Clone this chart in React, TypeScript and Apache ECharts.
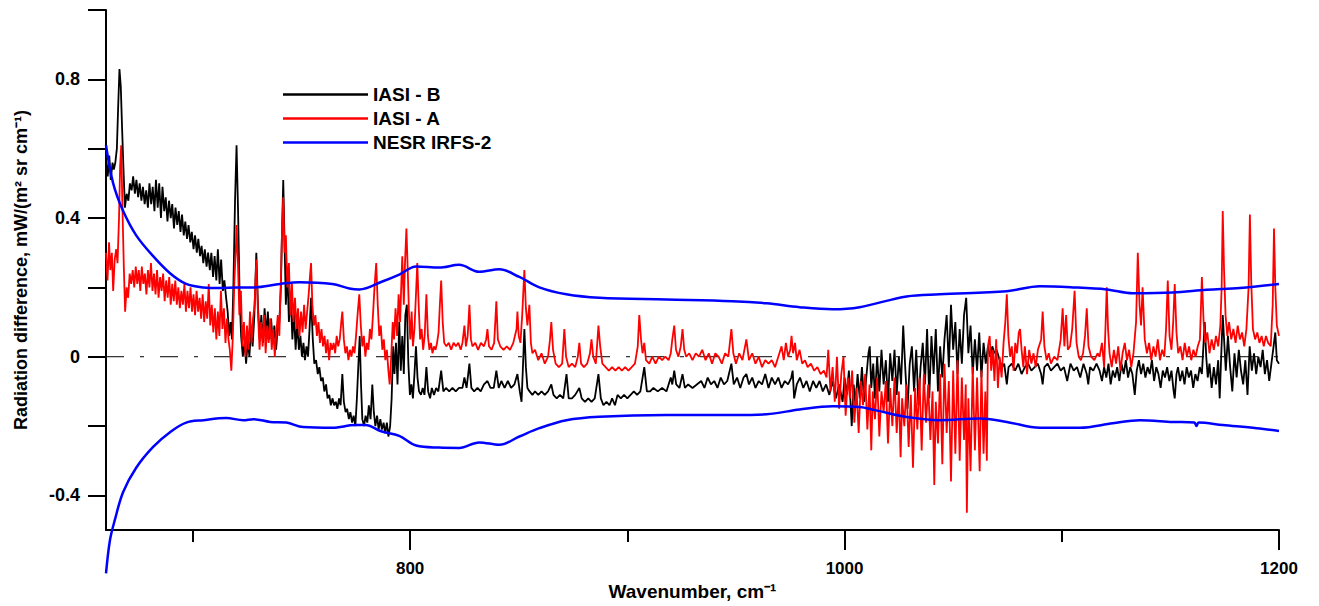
import React, { useEffect, useRef } from "react";
import * as echarts from "echarts";

// Wavenumber axis (cm-1) and radiation-difference axis ticks
const xMajorTicks = [800, 1000, 1200];
const xMinorTicks = [700, 900, 1100];
const yTicks = [-0.4, -0.2, 0, 0.2, 0.4, 0.6, 0.8, 1.0];
const yLabels = [-0.4, 0, 0.4, 0.8];

// IASI - B radiation difference, [wavenumber, value]
const iasiB: [number, number][] = [
  [660.0,0.57],[660.8,0.52],[661.5,0.58],[662.2,0.51],[663.0,0.56],[663.6,0.54],[664.3,0.56],[665.0,0.60],[665.6,0.72],[666.2,0.83],
  [666.8,0.78],[667.4,0.66],[668.0,0.55],[668.7,0.43],[669.5,0.47],[670.3,0.45],[671.0,0.50],[671.8,0.48],[672.5,0.52],[673.3,0.47],
  [674.0,0.51],[674.8,0.46],[675.5,0.50],[676.3,0.45],[677.0,0.49],[677.8,0.44],[678.5,0.48],[679.3,0.43],[680.0,0.50],[680.8,0.44],
  [681.5,0.49],[682.3,0.42],[683.0,0.51],[683.8,0.43],[684.5,0.50],[685.3,0.40],[686.0,0.49],[686.8,0.42],[687.5,0.46],[688.3,0.39],
  [689.0,0.45],[689.8,0.40],[690.5,0.44],[691.3,0.37],[692.0,0.43],[692.8,0.38],[693.5,0.42],[694.3,0.36],[695.0,0.41],[695.8,0.35],
  [696.5,0.39],[697.3,0.34],[698.0,0.38],[698.8,0.33],[699.5,0.36],[700.3,0.31],[701.0,0.35],[701.8,0.30],[702.5,0.34],[703.3,0.29],
  [704.0,0.32],[704.8,0.27],[705.5,0.31],[706.3,0.26],[707.0,0.30],[707.8,0.25],[708.5,0.30],[709.3,0.23],[710.0,0.29],[710.8,0.22],
  [711.5,0.31],[712.3,0.21],[713.0,0.28],[713.8,0.19],[714.5,0.22],[715.3,0.17],[716.0,0.13],[716.7,0.06],[717.4,0.10],[718.0,0.05],
  [718.7,0.22],[719.4,0.45],[720.1,0.61],[720.8,0.42],[721.5,0.18],[722.2,0.06],[723.0,0.00],[723.8,0.04],[724.5,-0.02],[725.3,0.05],
  [726.0,0.00],[726.8,0.08],[727.5,0.03],[728.3,0.12],[729.2,0.30],[730.0,0.14],[730.8,0.05],[731.5,0.12],[732.3,0.04],[733.0,0.14],
  [733.8,0.06],[734.5,0.13],[735.3,0.05],[736.0,0.11],[736.8,0.04],[737.5,0.09],[738.3,0.02],[739.0,0.08],[739.8,0.10],[740.5,0.20],
  [741.0,0.35],[741.6,0.51],[742.2,0.33],[742.8,0.15],[743.5,0.25],[744.2,0.10],[745.0,0.18],[745.8,0.05],[746.5,0.13],[747.3,0.02],
  [748.0,0.10],[748.8,0.02],[749.5,0.06],[750.2,0.00],[750.9,0.04],[751.6,-0.01],[752.3,0.03],[753.0,0.00],[753.7,0.08],[754.4,0.17],
  [755.2,0.05],[755.9,-0.02],[756.7,-0.01],[757.5,-0.05],[758.2,-0.03],[759.0,-0.07],[759.8,-0.06],[760.5,-0.10],[761.3,-0.08],[762.0,-0.12],
  [762.8,-0.11],[763.5,-0.14],[764.3,-0.12],[765.0,-0.14],[765.8,-0.13],[766.5,-0.15],[767.3,-0.12],[768.0,-0.14],[768.8,-0.05],[769.5,-0.13],
  [770.3,-0.16],[771.0,-0.15],[771.8,-0.18],[772.5,-0.16],[773.3,-0.19],[774.0,-0.17],[774.8,-0.20],[775.5,-0.12],[776.2,-0.02],[776.8,0.06],
  [777.4,-0.08],[778.0,-0.18],[778.8,-0.20],[779.5,-0.17],[780.3,-0.19],[781.0,-0.14],[781.8,-0.18],[782.6,-0.08],[783.3,-0.16],[784.0,-0.20],
  [784.8,-0.17],[785.5,-0.21],[786.3,-0.18],[787.0,-0.21],[787.8,-0.19],[788.5,-0.22],[789.3,-0.19],[790.0,-0.23],[790.8,-0.20],[791.5,-0.12],
  [792.2,0.03],[792.8,-0.05],[793.5,0.04],[794.2,-0.08],[795.0,0.10],[795.7,-0.04],[796.4,0.06],[797.1,-0.05],[797.8,0.12],[798.5,0.15],
  [799.2,-0.02],[799.9,-0.11],[800.6,-0.08],[801.3,-0.12],[802.0,-0.05],[802.7,0.03],[803.4,-0.06],[804.1,-0.10],[805.0,-0.11],[805.8,-0.09],
  [806.6,-0.11],[807.5,-0.03],[808.3,-0.10],[809.2,-0.12],[810.0,-0.09],[811.0,-0.11],[812.0,-0.09],[813.0,-0.10],[814.3,-0.04],[815.3,-0.10],
  [816.5,-0.09],[818.0,-0.10],[819.5,-0.09],[821.0,-0.10],[822.5,-0.09],[824.1,-0.09],[825.0,-0.06],[826.0,-0.09],[827.3,-0.02],[828.2,-0.09],
  [829.5,-0.10],[831.0,-0.09],[832.5,-0.10],[834.0,-0.08],[835.6,-0.07],[837.0,-0.09],[838.5,-0.09],[839.7,-0.04],[840.8,-0.09],[842.0,-0.07],
  [843.5,-0.09],[845.0,-0.07],[846.5,-0.09],[848.0,-0.08],[849.4,-0.05],[850.5,-0.10],[851.3,-0.13],[852.0,-0.02],[852.6,0.08],[853.3,-0.03],
  [854.0,-0.09],[855.0,-0.10],[856.3,-0.11],[857.5,-0.10],[859.0,-0.11],[860.5,-0.10],[862.0,-0.11],[863.5,-0.10],[865.0,-0.08],[866.0,-0.11],
  [867.5,-0.12],[869.0,-0.11],[870.5,-0.12],[872.0,-0.05],[873.0,-0.12],[874.5,-0.12],[876.0,-0.11],[877.9,-0.09],[879.0,-0.12],[880.5,-0.13],
  [882.0,-0.12],[883.5,-0.13],[885.0,-0.12],[886.7,-0.05],[887.8,-0.12],[889.0,-0.14],[890.4,-0.13],[891.8,-0.14],[893.0,-0.12],[894.3,-0.14],
  [895.5,-0.11],[897.0,-0.12],[898.5,-0.11],[900.0,-0.12],[901.5,-0.11],[903.0,-0.10],[904.5,-0.11],[906.0,-0.10],[907.8,-0.03],[909.0,-0.10],
  [910.5,-0.10],[912.0,-0.09],[914.0,-0.10],[916.0,-0.09],[918.0,-0.10],[920.0,-0.06],[920.7,-0.08],[921.6,-0.04],[922.5,-0.08],[924.0,-0.09],
  [925.4,-0.05],[926.5,-0.09],[928.0,-0.08],[930.0,-0.09],[932.0,-0.08],[934.0,-0.07],[935.5,-0.09],[937.0,-0.06],[938.5,-0.08],[940.0,-0.07],
  [941.5,-0.09],[943.0,-0.06],[944.5,-0.08],[946.0,-0.07],[947.9,-0.02],[949.0,-0.08],[950.5,-0.06],[952.0,-0.09],[953.5,-0.06],[954.8,-0.05],
  [956.0,-0.08],[957.5,-0.06],[959.0,-0.09],[960.5,-0.07],[962.0,-0.08],[963.5,-0.05],[965.0,-0.09],[966.5,-0.06],[968.0,-0.08],[969.5,-0.06],
  [971.0,-0.09],[972.5,-0.07],[974.0,-0.08],[975.5,-0.06],[976.1,-0.04],[976.8,-0.12],[978.0,-0.08],[979.5,-0.06],[981.0,-0.09],[982.5,-0.07],
  [984.0,-0.10],[985.5,-0.07],[987.0,-0.09],[988.5,-0.07],[990.0,-0.10],[991.5,-0.08],[993.0,-0.11],[994.5,-0.07],[996.0,-0.12],[997.5,-0.08],
  [999.1,-0.13],[1000.0,-0.06],[1001.0,-0.11],[1002.0,-0.04],[1003.3,-0.20],[1004.2,-0.08],[1005.0,-0.14],[1006.0,-0.05],[1007.0,-0.12],[1008.0,-0.03],
  [1009.0,-0.13],[1010.0,-0.06],[1011.0,0.01],[1011.6,0.03],[1012.3,-0.09],[1013.2,-0.02],[1014.0,-0.12],[1015.0,0.00],[1016.0,-0.10],[1017.0,0.02],
  [1018.0,-0.08],[1019.0,-0.01],[1020.0,-0.13],[1021.0,0.01],[1022.0,-0.07],[1023.0,0.02],[1024.0,-0.11],[1025.0,0.00],[1026.0,-0.08],[1027.0,0.09],
  [1028.0,-0.04],[1029.0,-0.15],[1030.0,-0.02],[1031.0,0.03],[1032.0,-0.10],[1033.0,0.02],[1034.0,-0.14],[1035.0,-0.03],[1036.0,0.04],[1037.0,-0.08],
  [1038.0,0.08],[1039.0,-0.12],[1040.0,0.06],[1041.0,-0.05],[1042.0,0.08],[1043.0,-0.10],[1044.0,0.03],[1045.0,-0.06],[1046.0,0.05],[1047.0,0.12],
  [1048.0,-0.03],[1049.0,0.15],[1050.0,0.02],[1051.0,0.10],[1052.0,-0.05],[1053.0,0.08],[1054.0,-0.02],[1055.0,0.12],[1056.0,0.17],[1057.0,0.01],
  [1058.0,0.09],[1059.0,-0.05],[1060.0,0.05],[1061.0,-0.04],[1062.0,0.07],[1063.0,-0.06],[1064.0,0.04],[1065.0,-0.02],[1066.0,0.03],[1067.0,0.00],
  [1068.0,0.03],[1069.0,0.01],[1070.0,0.02],[1071.4,-0.01],[1072.5,-0.03],[1073.5,-0.02],[1074.7,-0.08],[1075.5,-0.03],[1077.0,-0.02],[1078.5,-0.04],
  [1080.0,-0.02],[1081.5,-0.05],[1083.0,-0.03],[1084.5,-0.02],[1086.0,-0.04],[1087.5,-0.03],[1089.0,-0.02],[1090.5,-0.05],[1091.2,-0.08],[1092.0,-0.03],
  [1093.5,-0.02],[1095.0,-0.04],[1096.5,-0.03],[1098.0,-0.02],[1099.5,-0.04],[1101.0,-0.03],[1102.5,-0.07],[1104.0,-0.02],[1105.5,-0.04],[1107.0,-0.03],
  [1108.5,-0.06],[1110.0,-0.02],[1111.5,-0.05],[1112.2,-0.08],[1113.0,-0.03],[1114.5,-0.04],[1116.0,-0.02],[1117.4,-0.04],[1118.5,-0.07],[1119.5,-0.03],
  [1120.5,-0.06],[1121.5,-0.02],[1122.5,-0.08],[1123.5,-0.04],[1124.5,-0.06],[1125.5,-0.03],[1126.5,-0.07],[1127.5,-0.02],[1128.5,-0.05],[1129.5,-0.01],
  [1130.5,-0.06],[1131.5,-0.03],[1132.5,-0.05],[1133.6,-0.11],[1134.5,-0.04],[1135.5,-0.01],[1136.5,-0.05],[1137.5,-0.02],[1138.5,-0.06],[1139.5,-0.03],
  [1140.5,-0.05],[1141.5,-0.01],[1142.5,-0.07],[1143.5,-0.03],[1144.5,-0.05],[1145.5,-0.09],[1146.5,-0.04],[1147.5,-0.06],[1148.5,-0.03],[1149.5,-0.07],
  [1150.5,-0.04],[1151.5,-0.10],[1152.0,-0.12],[1152.8,-0.05],[1153.5,-0.03],[1154.5,-0.07],[1155.5,-0.04],[1156.5,-0.08],[1157.5,-0.03],[1158.5,-0.06],
  [1159.5,-0.04],[1160.5,-0.09],[1161.5,-0.05],[1162.5,-0.07],[1163.5,-0.03],[1164.5,-0.05],[1165.8,0.10],[1166.5,0.00],[1167.2,-0.06],[1168.0,-0.02],
  [1169.0,-0.09],[1170.0,-0.03],[1171.0,-0.08],[1172.0,-0.01],[1172.7,-0.12],[1173.5,0.02],[1174.1,0.12],[1174.8,0.04],[1175.5,-0.04],[1176.5,0.06],
  [1177.5,-0.03],[1178.5,-0.10],[1179.5,0.01],[1180.5,-0.06],[1181.5,0.02],[1182.5,-0.04],[1183.5,-0.08],[1184.5,-0.01],[1185.5,-0.11],[1186.5,0.03],
  [1187.5,-0.04],[1188.5,0.01],[1189.5,-0.05],[1190.5,0.00],[1191.5,-0.03],[1192.5,0.02],[1193.5,-0.05],[1194.5,-0.01],[1195.5,-0.07],[1196.5,-0.02],
  [1197.5,0.03],[1198.3,0.07],[1199.0,-0.01],[1200.0,-0.02],
];

// IASI - A radiation difference, [wavenumber, value]
const iasiA: [number, number][] = [
  [660.0,0.30],[660.7,0.22],[661.4,0.33],[662.0,0.25],[662.7,0.30],[663.3,0.19],[664.0,0.28],[664.7,0.31],[665.3,0.27],[666.0,0.40],
  [666.5,0.55],[667.0,0.61],[667.5,0.45],[668.2,0.26],[668.8,0.13],[669.5,0.20],[670.2,0.17],[670.9,0.24],[671.6,0.21],[672.3,0.25],
  [673.0,0.20],[673.7,0.26],[674.4,0.21],[675.1,0.25],[675.8,0.19],[676.5,0.26],[677.2,0.21],[677.9,0.24],[678.6,0.18],[679.3,0.25],
  [680.0,0.20],[680.7,0.27],[681.4,0.19],[682.1,0.24],[682.8,0.18],[683.5,0.25],[684.2,0.17],[684.9,0.23],[685.6,0.19],[686.3,0.24],
  [687.0,0.16],[687.7,0.22],[688.4,0.17],[689.1,0.23],[689.8,0.15],[690.5,0.21],[691.2,0.16],[691.9,0.22],[692.6,0.15],[693.3,0.20],
  [694.0,0.14],[694.7,0.19],[695.4,0.15],[696.1,0.21],[696.8,0.13],[697.5,0.19],[698.2,0.14],[698.9,0.20],[699.6,0.13],[700.3,0.18],
  [701.0,0.12],[701.7,0.19],[702.4,0.13],[703.1,0.17],[703.8,0.11],[704.5,0.18],[705.2,0.10],[705.9,0.16],[706.6,0.11],[707.3,0.21],
  [708.0,0.09],[708.7,0.15],[709.4,0.07],[710.1,0.14],[710.8,0.05],[711.5,0.13],[712.2,0.06],[712.9,0.19],[713.6,0.08],[714.3,0.14],
  [715.0,0.04],[715.7,0.11],[716.4,0.05],[717.0,0.02],[717.7,-0.04],[718.4,0.06],[719.1,0.22],[719.7,0.30],[720.1,0.38],[720.7,0.28],
  [721.4,0.12],[722.1,0.19],[722.8,0.03],[723.5,0.10],[724.2,0.00],[724.9,0.09],[725.6,0.02],[726.3,0.13],[727.0,0.04],[727.7,0.11],
  [728.4,0.15],[729.2,0.28],[730.0,0.12],[730.7,0.02],[731.4,0.10],[732.1,0.03],[732.8,0.12],[733.5,0.01],[734.2,0.09],[734.9,0.04],
  [735.6,0.11],[736.3,0.02],[737.0,0.08],[737.7,0.00],[738.4,0.07],[739.1,0.12],[739.8,0.06],[740.5,0.22],[741.1,0.38],[741.6,0.46],
  [742.2,0.30],[742.8,0.35],[743.5,0.20],[744.2,0.27],[744.9,0.12],[745.6,0.21],[746.3,0.10],[747.0,0.17],[747.7,0.08],[748.4,0.14],
  [749.1,0.06],[749.8,0.13],[750.5,0.07],[751.2,0.15],[751.9,0.08],[752.6,0.13],[753.3,0.18],[754.0,0.24],[754.4,0.27],[755.0,0.15],
  [755.7,0.09],[756.4,0.12],[757.1,0.06],[757.8,0.10],[758.5,0.04],[759.2,0.08],[759.9,0.03],[760.6,0.06],[761.3,0.01],[762.0,0.05],
  [762.7,-0.01],[763.4,0.04],[764.1,0.02],[764.8,0.04],[765.5,0.01],[766.2,0.06],[766.9,0.03],[767.6,0.05],[768.3,0.10],[768.8,0.13],
  [769.5,0.05],[770.2,0.01],[770.9,0.03],[771.6,-0.01],[772.3,0.02],[773.0,0.00],[773.7,0.03],[774.4,0.01],[775.1,0.06],[775.8,0.12],
  [776.6,0.18],[777.3,0.09],[778.0,0.03],[778.7,0.06],[779.4,0.00],[780.1,0.04],[780.8,0.02],[781.5,0.08],[782.2,0.05],[782.9,0.12],
  [783.6,0.20],[784.4,0.27],[785.1,0.15],[785.8,0.06],[786.5,0.09],[787.2,0.02],[787.9,0.05],[788.6,-0.01],[789.3,0.02],[790.0,-0.04],
  [790.6,-0.08],[791.3,0.00],[792.0,0.10],[792.6,0.05],[793.3,0.14],[794.0,0.06],[794.7,0.18],[795.4,0.10],[796.0,0.22],[796.4,0.29],
  [797.1,0.15],[797.7,0.28],[798.3,0.37],[798.9,0.25],[799.5,0.12],[800.1,0.05],[800.7,0.13],[801.3,0.03],[802.0,0.08],[802.7,0.18],
  [803.3,0.27],[804.0,0.14],[804.6,0.05],[805.3,0.08],[806.0,0.02],[806.7,0.06],[807.5,0.18],[808.2,0.06],[808.9,0.02],[809.6,0.04],
  [810.3,0.01],[811.0,0.03],[811.7,0.02],[812.4,0.04],[813.1,0.07],[813.7,0.15],[814.3,0.22],[815.0,0.10],[815.7,0.04],[816.7,0.03],
  [817.8,0.04],[818.9,0.02],[820.0,0.04],[821.1,0.03],[822.2,0.04],[823.3,0.02],[824.1,0.04],[825.0,0.09],[825.7,0.03],[826.5,0.06],
  [827.3,0.15],[828.0,0.05],[828.7,0.03],[830.0,0.04],[831.3,0.02],[832.6,0.04],[834.0,0.03],[835.0,0.05],[835.6,0.08],[836.3,0.03],
  [837.5,0.02],[838.7,0.04],[839.7,0.16],[840.4,0.05],[841.5,0.03],[843.0,0.02],[844.5,0.03],[846.0,0.02],[847.5,0.04],[849.0,0.08],
  [849.4,0.13],[850.0,0.06],[850.8,0.04],[851.6,0.12],[852.6,0.25],[853.3,0.14],[854.0,0.09],[854.9,0.15],[855.6,0.04],[856.3,0.01],
  [857.5,0.02],[859.0,-0.01],[860.5,0.01],[862.0,-0.02],[863.5,0.00],[864.4,0.05],[865.0,0.10],[865.8,0.02],[867.0,-0.02],[868.5,-0.03],
  [870.0,-0.02],[870.6,0.04],[871.0,0.08],[871.8,0.00],[873.0,-0.03],[874.5,-0.02],[876.0,-0.03],[877.2,0.00],[877.9,0.04],[878.7,-0.02],
  [880.0,-0.03],[881.5,-0.02],[882.8,0.01],[883.5,0.05],[884.3,0.00],[885.5,-0.02],[886.7,0.09],[887.5,0.03],[888.5,-0.02],[890.0,-0.03],
  [891.5,-0.04],[893.0,-0.03],[894.5,-0.04],[896.0,-0.03],[897.5,-0.04],[899.0,-0.03],[900.5,-0.04],[902.0,-0.03],[903.5,-0.02],[904.8,0.03],
  [905.5,0.12],[906.3,0.05],[907.0,0.01],[907.8,0.04],[908.6,-0.01],[910.1,-0.02],[911.5,0.00],[913.0,-0.02],[914.5,0.00],[916.0,-0.01],
  [917.5,0.00],[919.0,-0.01],[920.0,0.01],[920.7,0.05],[921.6,0.09],[922.4,0.02],[923.5,0.00],[924.6,0.03],[925.4,0.08],[926.2,0.02],
  [927.1,0.00],[928.5,0.01],[930.0,-0.01],[931.5,0.01],[933.0,0.00],[934.5,0.02],[936.0,-0.01],[937.5,0.01],[939.0,-0.02],[940.5,0.01],
  [942.0,0.00],[943.5,-0.02],[945.0,0.01],[946.5,0.00],[947.9,0.08],[948.8,0.01],[950.0,-0.02],[951.5,0.01],[953.0,-0.01],[954.8,0.05],
  [956.0,-0.01],[957.5,0.01],[959.0,-0.02],[960.5,0.00],[962.0,-0.03],[963.5,-0.01],[965.0,-0.02],[966.5,-0.01],[968.0,-0.03],[969.5,0.00],
  [971.0,0.03],[972.0,-0.01],[973.0,0.04],[974.0,0.00],[975.0,0.02],[975.6,0.06],[976.3,0.01],[977.2,0.04],[978.0,-0.01],[979.3,0.02],
  [980.5,-0.02],[981.8,-0.01],[983.0,-0.03],[984.5,-0.02],[986.0,-0.04],[987.5,-0.03],[989.0,-0.05],[990.5,-0.04],[991.7,-0.06],[992.5,0.02],
  [993.5,-0.10],[994.5,-0.03],[995.5,-0.13],[996.5,0.00],[997.5,-0.15],[998.5,-0.05],[999.5,0.00],[1000.5,-0.17],[1001.5,-0.06],[1002.5,-0.12],
  [1003.5,-0.04],[1004.5,-0.19],[1005.5,-0.09],[1006.5,-0.22],[1007.5,-0.07],[1008.5,-0.14],[1009.5,-0.05],[1010.5,-0.21],[1011.5,-0.08],[1012.3,-0.27],
  [1013.0,-0.10],[1014.0,-0.18],[1015.0,-0.06],[1016.0,-0.23],[1017.0,-0.10],[1018.0,-0.16],[1019.0,-0.07],[1020.0,-0.25],[1021.0,-0.09],[1022.0,-0.20],
  [1023.0,-0.06],[1024.0,-0.22],[1025.0,-0.10],[1025.8,-0.29],[1026.5,-0.12],[1027.5,-0.20],[1028.5,-0.08],[1029.5,-0.26],[1030.5,-0.11],[1031.5,-0.32],
  [1032.5,-0.09],[1033.5,-0.21],[1034.5,-0.06],[1035.5,-0.27],[1036.5,-0.05],[1037.5,-0.19],[1038.5,-0.08],[1039.5,-0.24],[1040.5,-0.10],[1041.3,-0.37],
  [1042.0,-0.13],[1043.0,-0.25],[1044.0,-0.05],[1045.0,-0.31],[1046.0,-0.02],[1047.0,-0.22],[1048.0,-0.07],[1049.0,-0.36],[1050.0,-0.04],[1051.0,-0.28],
  [1052.0,-0.01],[1053.0,-0.30],[1054.0,-0.06],[1055.0,-0.24],[1055.8,-0.08],[1056.3,-0.45],[1057.0,-0.12],[1058.0,-0.33],[1059.0,-0.03],[1060.0,-0.27],
  [1061.0,-0.06],[1062.2,-0.33],[1063.0,-0.04],[1064.0,-0.28],[1064.8,-0.10],[1065.5,-0.30],[1066.0,0.03],[1066.8,0.06],[1067.5,-0.04],[1068.3,0.02],
  [1069.0,-0.07],[1069.8,0.05],[1070.6,-0.09],[1071.4,0.00],[1072.3,-0.06],[1073.2,0.04],[1074.0,0.10],[1074.7,0.18],[1075.4,0.06],[1076.2,0.00],
  [1077.0,0.03],[1077.8,-0.04],[1078.6,0.04],[1079.4,0.01],[1080.2,0.07],[1080.8,0.08],[1081.5,0.02],[1082.3,-0.03],[1083.0,0.03],[1084.0,-0.05],
  [1085.0,0.02],[1086.0,-0.02],[1087.0,0.01],[1088.0,-0.03],[1089.0,0.02],[1090.5,0.05],[1091.2,0.13],[1092.0,0.03],[1093.0,-0.01],[1094.0,0.01],
  [1095.0,-0.02],[1096.5,0.00],[1098.0,-0.01],[1099.5,0.05],[1100.4,0.14],[1101.2,0.03],[1102.0,0.12],[1102.8,0.02],[1103.8,0.03],[1104.8,0.08],
  [1105.9,0.19],[1106.8,0.04],[1107.8,0.00],[1108.8,-0.01],[1109.8,0.01],[1110.7,0.06],[1111.5,0.14],[1112.3,0.03],[1113.5,0.00],[1115.0,-0.01],
  [1116.5,0.01],[1117.4,0.00],[1118.5,0.04],[1119.5,-0.03],[1120.2,0.10],[1120.7,0.20],[1121.3,0.08],[1122.0,0.01],[1123.0,-0.03],[1124.0,0.02],
  [1125.0,-0.02],[1126.0,0.03],[1127.0,-0.04],[1128.0,0.01],[1129.0,0.04],[1130.0,-0.01],[1131.0,0.02],[1132.0,-0.03],[1133.0,0.01],[1134.2,0.10],
  [1135.0,0.30],[1135.8,0.15],[1136.5,0.09],[1137.2,0.20],[1138.2,0.05],[1139.2,0.01],[1140.2,0.04],[1141.2,-0.01],[1142.2,0.03],[1143.2,0.00],
  [1144.2,0.05],[1145.2,-0.01],[1146.2,0.02],[1147.2,0.00],[1148.0,0.08],[1148.8,0.22],[1149.6,0.06],[1150.5,0.02],[1151.3,0.10],[1152.0,0.21],
  [1152.8,0.07],[1153.6,0.01],[1154.6,0.03],[1155.6,-0.01],[1156.6,0.04],[1157.6,0.00],[1158.6,0.03],[1159.6,-0.01],[1160.6,0.02],[1161.6,0.00],
  [1162.6,0.03],[1163.6,0.05],[1164.5,0.23],[1165.3,0.10],[1166.0,0.04],[1167.0,0.07],[1168.0,0.01],[1169.0,0.05],[1170.0,0.02],[1171.0,0.06],
  [1172.0,0.03],[1173.0,0.09],[1173.6,0.20],[1174.1,0.42],[1174.7,0.25],[1175.4,0.12],[1176.2,0.06],[1177.0,0.10],[1178.0,0.05],[1179.0,0.08],
  [1180.0,0.04],[1181.0,0.09],[1182.0,0.05],[1183.0,0.07],[1184.0,0.03],[1185.0,0.08],[1186.0,0.20],[1186.6,0.41],[1187.2,0.22],[1188.0,0.08],
  [1189.0,0.05],[1190.0,0.07],[1191.0,0.04],[1192.0,0.06],[1193.0,0.03],[1194.0,0.06],[1195.0,0.04],[1196.2,0.03],[1197.1,0.15],[1197.7,0.37],
  [1198.3,0.20],[1199.0,0.09],[1200.0,0.06],
];

// NESR of IRFS-2, upper (+) and lower (-) envelope, [wavenumber, value]
const nesrUpper: [number, number][] = [
  [660.0,0.61],[663.3,0.50],[667.9,0.42],[673.9,0.35],[681.7,0.29],[689.6,0.24],[696.9,0.21],[704.8,0.20],[712.6,0.198],[720.0,0.20],
  [727.8,0.20],[740.2,0.21],[749.0,0.215],[764.2,0.21],[772.0,0.197],[776.6,0.194],[787.2,0.217],[795.0,0.237],[802.8,0.26],[813.4,0.257],
  [822.6,0.265],[831.8,0.245],[841.1,0.252],[850.3,0.23],[859.5,0.20],[871.9,0.18],[887.1,0.17],[918.0,0.165],[948.4,0.16],[964.1,0.154],
  [979.3,0.143],[994.5,0.137],[1006.9,0.143],[1028.6,0.174],[1043.8,0.18],[1074.7,0.189],[1089.9,0.203],[1105.1,0.20],[1120.7,0.194],[1132.7,0.183],
  [1151.1,0.185],[1166.8,0.193],[1182.0,0.198],[1200.0,0.21],
];
const nesrLower: [number, number][] = [
  [660.0,-0.625],[661.8,-0.53],[664.1,-0.47],[667.9,-0.39],[673.9,-0.32],[681.7,-0.26],[689.6,-0.217],[696.9,-0.19],[704.8,-0.183],[715.4,-0.177],
  [723.2,-0.183],[727.8,-0.18],[735.6,-0.188],[743.0,-0.19],[750.8,-0.203],[764.2,-0.205],[774.7,-0.197],[779.4,-0.197],[786.7,-0.215],[795.0,-0.228],
  [802.8,-0.256],[813.4,-0.262],[822.6,-0.263],[831.8,-0.247],[841.1,-0.254],[850.3,-0.23],[859.5,-0.206],[871.9,-0.183],[887.1,-0.173],[918.0,-0.168],
  [948.4,-0.168],[964.1,-0.166],[979.3,-0.152],[994.5,-0.143],[1006.9,-0.145],[1014.0,-0.154],[1028.6,-0.174],[1043.8,-0.183],[1062.2,-0.178],[1074.7,-0.188],
  [1089.9,-0.205],[1108.3,-0.205],[1123.5,-0.192],[1135.9,-0.183],[1151.1,-0.188],[1161.0,-0.19],[1162.0,-0.20],[1163.0,-0.19],[1174.1,-0.197],[1189.7,-0.206],
  [1200.0,-0.214],
];

const zeroLine: [number, number][] = [[660, 0], [1200, 0]];

const FONT = "'Liberation Sans', Arial, sans-serif";

export default function App() {
  const ref = useRef<HTMLDivElement>(null);

  useEffect(() => {
    if (!ref.current) return;
    const chart = echarts.init(ref.current, undefined, { renderer: "svg" });
    const lineSeries = (
      name: string,
      data: [number, number][],
      color: string,
      width: number,
      z: number,
      extra: Record<string, unknown> = {}
    ) => ({
      name,
      type: "line",
      data,
      symbol: "none",
      showSymbol: false,
      z,
      lineStyle: { color, width },
      itemStyle: { color },
      emphasis: { disabled: true },
      ...extra,
    });
    chart.setOption({
      animation: false,
      backgroundColor: "#ffffff",
      grid: { left: 106, right: 40, top: 10, bottom: 70, containLabel: false },
      legend: {
        data: ["IASI - B", "IASI - A", "NESR IRFS-2"],
        orient: "vertical",
        left: 283,
        top: 85,
        padding: 0,
        icon: "rect",
        itemWidth: 85,
        itemHeight: 2.5,
        itemGap: 5,
        textStyle: { fontFamily: FONT, fontWeight: "bold", fontSize: 19, color: "#000" },
      },
      xAxis: [
        {
          type: "value",
          min: 660,
          max: 1200,
          position: "bottom",
          name: "Wavenumber, cm⁻¹",
          nameLocation: "middle",
          nameGap: 47,
          nameTextStyle: { fontFamily: FONT, fontWeight: "bold", fontSize: 19, color: "#000" },
          axisLine: { show: true, onZero: false, lineStyle: { color: "#000", width: 2 } },
          axisTick: { show: true, inside: false, length: 20, lineStyle: { color: "#000", width: 2 }, customValues: xMajorTicks },
          axisLabel: {
            show: true,
            margin: 30,
            customValues: xMajorTicks,
            fontFamily: FONT,
            fontWeight: "bold",
            fontSize: 17,
            color: "#000",
            formatter: (v: number) => String(v),
          },
          splitLine: { show: false },
        },
        {
          type: "value",
          min: 660,
          max: 1200,
          position: "bottom",
          axisLine: { show: false, onZero: false },
          axisTick: { show: true, inside: false, length: 12, lineStyle: { color: "#000", width: 2 }, customValues: xMinorTicks },
          axisLabel: { show: false },
          splitLine: { show: false },
        },
      ],
      yAxis: {
        type: "value",
        min: -0.5,
        max: 1.0,
        name: "Radiation difference, mW/(m² sr cm⁻¹)",
        nameLocation: "middle",
        nameGap: 76,
        nameTextStyle: { fontFamily: FONT, fontWeight: "bold", fontSize: 18, color: "#000" },
        axisLine: { show: true, onZero: false, lineStyle: { color: "#000", width: 2 } },
        axisTick: { show: true, inside: false, length: 18, lineStyle: { color: "#000", width: 2 }, customValues: yTicks },
        axisLabel: {
          show: true,
          margin: 26,
          customValues: yLabels,
          fontFamily: FONT,
          fontWeight: "bold",
          fontSize: 18,
          color: "#000",
          formatter: (v: number) => (v === 0 ? "0" : String(Math.round(v * 10) / 10)),
        },
        splitLine: { show: false },
      },
      series: [
        {
          name: "zero",
          type: "line",
          data: zeroLine,
          symbol: "none",
          z: 1,
          lineStyle: { color: "#000", width: 1, type: [18, 16, 4, 16] },
          emphasis: { disabled: true },
        },
        lineSeries("IASI - B", iasiB, "#000000", 1.8, 2),
        lineSeries("IASI - A", iasiA, "#ff0000", 1.8, 3),
        lineSeries("NESR IRFS-2", nesrUpper, "#0000ff", 2.5, 4, { smooth: 0.35 }),
        lineSeries("NESR IRFS-2", nesrLower, "#0000ff", 2.5, 4, { smooth: 0.35, clip: false }),
      ],
    });
    return () => chart.dispose();
  }, []);

  return <div ref={ref} style={{ position: "fixed", left: 0, top: 0, width: 1319, height: 606 }} />;
}
